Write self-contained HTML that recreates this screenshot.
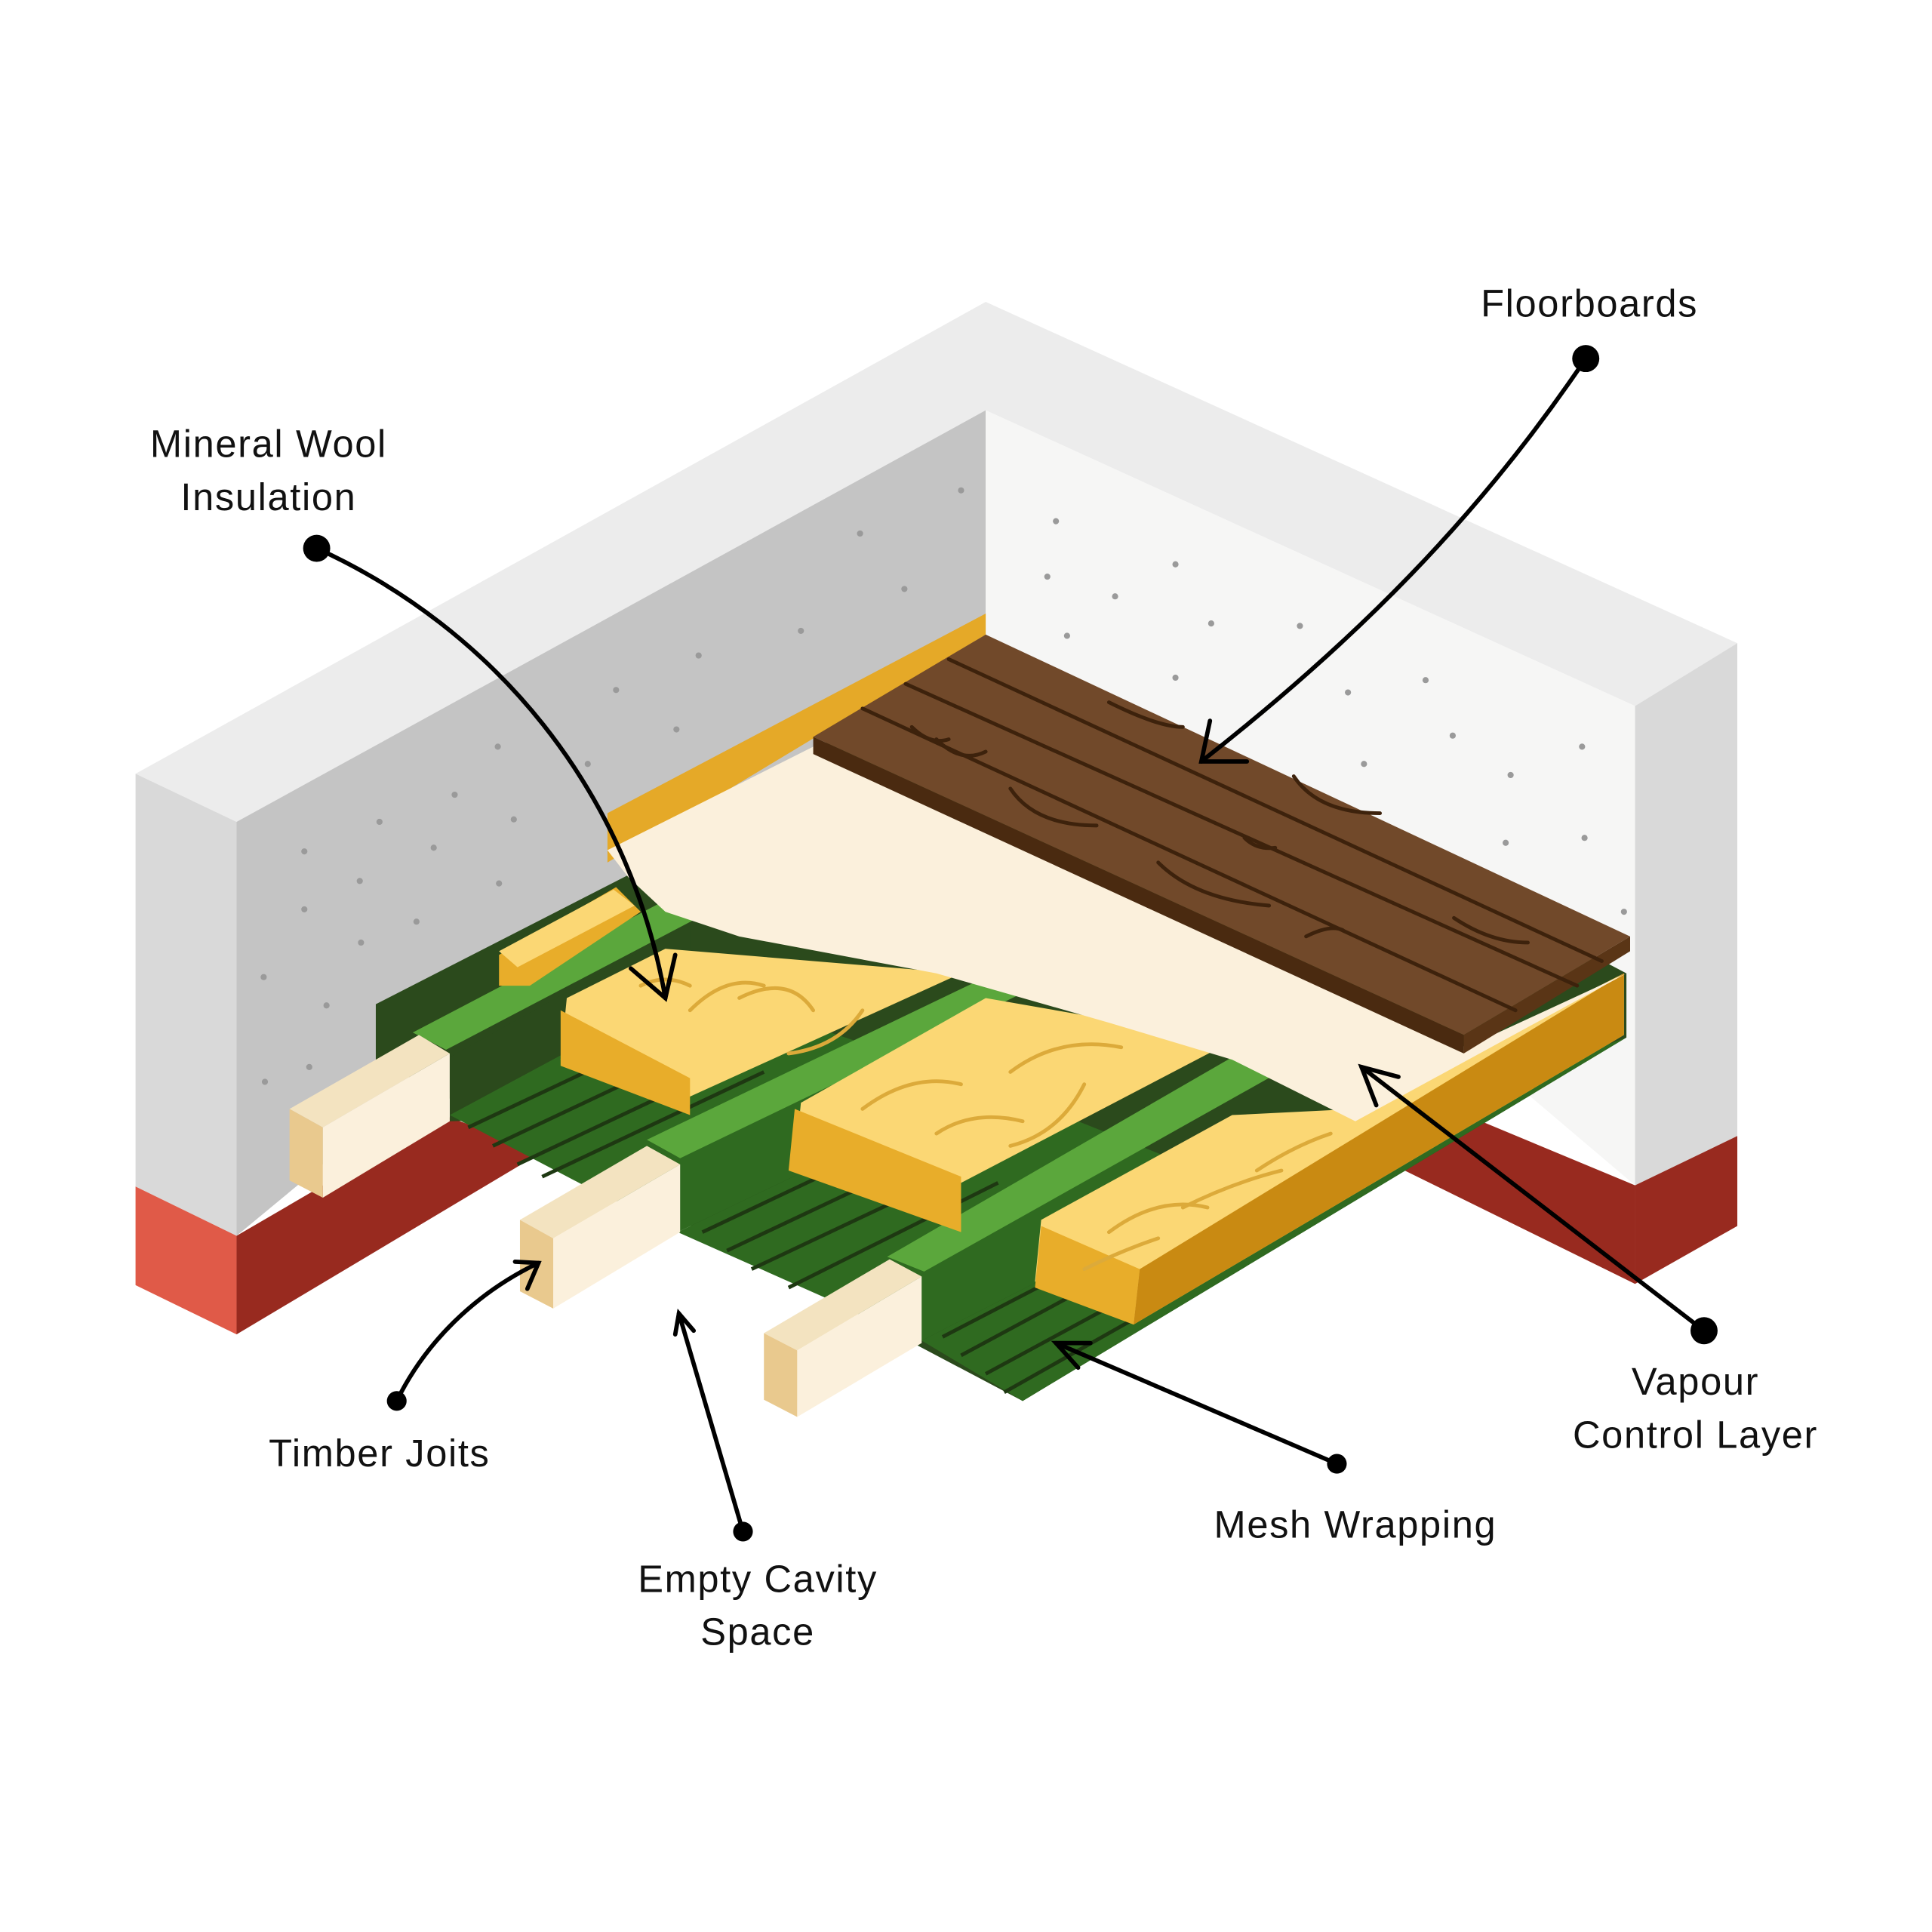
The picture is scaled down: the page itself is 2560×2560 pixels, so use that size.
<!DOCTYPE html>
<html><head><meta charset="utf-8"><style>html,body{margin:0;padding:0;background:#fff}svg{display:block}</style></head>
<body>
<svg width="2560" height="2560" viewBox="0 0 1568 1568" xmlns="http://www.w3.org/2000/svg">
<rect width="1568" height="1568" fill="#fff"/>
<polygon points="110,628 800,245 1410,522 1327,573 800,333 192,667" fill="#ececec"/>
<polygon points="110,628 192,667 192,1003 110,963" fill="#d9d9d9"/>
<polygon points="110,963 192,1003 192,1083 110,1043" fill="#e05a48"/>
<polygon points="192,667 800,333 800,500 192,1003" fill="#c4c4c4"/>
<polygon points="192,1003 192,1083 440,935 360,905" fill="#982a1f"/>
<polygon points="800,333 1327,573 1327,962 800,515" fill="#f6f6f5"/>
<polygon points="1327,573 1410,522 1410,922 1327,962" fill="#d9d9d9"/>
<polygon points="1327,962 1410,922 1410,995 1327,1042" fill="#982a1f"/>
<polygon points="1140,950 1327,1042 1327,962 1190,905" fill="#982a1f"/>
<g fill="#9a9a9a">
<circle cx="780" cy="398" r="2.5"/><circle cx="698" cy="433" r="2.5"/><circle cx="734" cy="478" r="2.5"/><circle cx="650" cy="512" r="2.5"/><circle cx="567" cy="532" r="2.5"/><circle cx="500" cy="560" r="2.5"/><circle cx="549" cy="592" r="2.5"/><circle cx="404" cy="606" r="2.5"/><circle cx="477" cy="620" r="2.5"/><circle cx="369" cy="645" r="2.5"/><circle cx="308" cy="667" r="2.5"/><circle cx="417" cy="665" r="2.5"/><circle cx="352" cy="688" r="2.5"/><circle cx="247" cy="691" r="2.5"/><circle cx="292" cy="715" r="2.5"/><circle cx="405" cy="717" r="2.5"/><circle cx="247" cy="738" r="2.5"/><circle cx="338" cy="748" r="2.5"/><circle cx="293" cy="765" r="2.5"/><circle cx="214" cy="793" r="2.5"/><circle cx="265" cy="816" r="2.5"/><circle cx="251" cy="866" r="2.5"/><circle cx="215" cy="878" r="2.5"/>
<circle cx="857" cy="423" r="2.5"/><circle cx="954" cy="458" r="2.5"/><circle cx="850" cy="468" r="2.5"/><circle cx="905" cy="484" r="2.5"/><circle cx="983" cy="506" r="2.5"/><circle cx="1055" cy="508" r="2.5"/><circle cx="866" cy="516" r="2.5"/><circle cx="954" cy="550" r="2.5"/><circle cx="1157" cy="552" r="2.5"/><circle cx="1094" cy="562" r="2.5"/><circle cx="1179" cy="597" r="2.5"/><circle cx="1284" cy="606" r="2.5"/><circle cx="1107" cy="620" r="2.5"/><circle cx="1226" cy="629" r="2.5"/><circle cx="1222" cy="684" r="2.5"/><circle cx="1286" cy="680" r="2.5"/><circle cx="1318" cy="740" r="2.5"/>
</g>
<polygon points="305,815 520,705 800,515 1320,790 1320,842 830,1137 305,860" fill="#2b4a1c"/>
<polygon points="365,858 560,750 560,905 365,910" fill="#2b4a1c"/>
<polygon points="365,905 560,800 800,880 550,1000 470,960" fill="#2f6a20"/>
<polygon points="550,1000 800,880 1000,960 748,1088" fill="#2f6a20"/>
<polygon points="748,1088 1000,960 1320,842 830,1137" fill="#2f6a20"/>
<g stroke="#1e3812" stroke-width="3">
<line x1="380" y1="915" x2="560" y2="830"/><line x1="400" y1="930" x2="580" y2="845"/><line x1="420" y1="945" x2="600" y2="860"/><line x1="440" y1="955" x2="620" y2="870"/>
<line x1="570" y1="1000" x2="750" y2="915"/><line x1="590" y1="1015" x2="770" y2="930"/><line x1="610" y1="1030" x2="790" y2="945"/><line x1="640" y1="1045" x2="810" y2="960"/>
<line x1="765" y1="1085" x2="900" y2="1015"/><line x1="780" y1="1100" x2="910" y2="1030"/><line x1="800" y1="1115" x2="920" y2="1050"/><line x1="815" y1="1130" x2="930" y2="1065"/>
</g>
<polygon points="493,660 800,498 800,515 493,700" fill="#e5a928"/>
<polygon points="335,838 545,728 572,742 362,852" fill="#5ba73c"/>
<polygon points="525,925 800,793 832,805 552,940" fill="#5ba73c"/>
<polygon points="720,1020 1000,858 1035,872 750,1032" fill="#5ba73c"/>
<polygon points="405,775 500,720 520,740 430,800 405,800" fill="#e8ad2a"/>
<polygon points="405,772 498,722 515,735 420,785" fill="#fbd774"/>
<polygon points="460,810 540,770 780,790 560,890 455,860" fill="#fbd774"/>
<polygon points="455,820 560,875 560,905 455,865" fill="#e8ad2a"/>
<polygon points="650,895 800,810 1000,845 780,960 645,945" fill="#fbd774"/>
<polygon points="645,900 780,955 780,1000 640,950" fill="#e8ad2a"/>
<polygon points="845,990 1000,905 1100,900 1318,790 1318,840 920,1075 840,1040" fill="#fbd774"/>
<polygon points="845,995 925,1030 920,1075 840,1045" fill="#e8ad2a"/>
<polygon points="925,1030 1318,790 1318,840 920,1075" fill="#c98a12"/>
<g fill="none" stroke="#dcaa3a" stroke-width="3" stroke-linecap="round">
<path d="M560,820 q30,-30 60,-20 M600,810 q40,-20 60,10 M700,820 q-20,30 -60,35 M520,800 q20,-10 40,0"/>
<path d="M700,900 q40,-30 80,-20 M760,920 q30,-20 70,-10 M820,870 q40,-30 90,-20 M880,880 q-20,40 -60,50"/>
<path d="M900,1000 q40,-30 80,-20 M960,980 q40,-20 80,-30 M1020,950 q30,-20 60,-30 M880,1030 q30,-15 60,-25"/>
</g>
<polygon points="493,690 662,605 1190,850 1320,790 1100,910 1000,860 900,830 760,790 600,760 540,740 510,712" fill="#fbf0dc"/>
<polygon points="235,900 340,840 365,855 262,915" fill="#f3e3c0"/>
<polygon points="262,915 365,855 365,910 262,972" fill="#fbf0dc"/>
<polygon points="235,900 262,915 262,972 235,958" fill="#e9c98e"/>
<polygon points="422,990 525,930 552,945 449,1005" fill="#f3e3c0"/>
<polygon points="449,1005 552,945 552,1000 449,1062" fill="#fbf0dc"/>
<polygon points="422,990 449,1005 449,1062 422,1048" fill="#e9c98e"/>
<polygon points="620,1082 722,1022 748,1036 647,1096" fill="#f3e3c0"/>
<polygon points="647,1096 748,1036 748,1090 647,1150" fill="#fbf0dc"/>
<polygon points="620,1082 647,1096 647,1150 620,1136" fill="#e9c98e"/>
<polygon points="660,598 800,515 1323,760 1188,840" fill="#71492a"/>
<polygon points="660,598 1188,840 1188,855 660,612" fill="#4a2a10"/>
<polygon points="1188,840 1323,760 1323,772 1188,855" fill="#5a3516"/>
<g fill="none" stroke="#3d220c" stroke-width="3" stroke-linecap="round">
<line x1="700" y1="575" x2="1230" y2="820"/><line x1="735" y1="555" x2="1280" y2="800"/><line x1="770" y1="535" x2="1300" y2="780"/>
<path d="M760,600 q20,20 40,10 M820,640 q20,30 70,30 M940,700 q30,30 90,35 M1050,630 q20,30 70,30 M900,570 q40,20 60,20 M1180,745 q30,20 60,20 M1060,760 q20,-10 30,-5 M740,590 q15,15 30,10 M1010,680 q10,10 25,8"/>
</g>
<g fill="none" stroke="#000" stroke-width="3.5" stroke-linecap="round">
<path d="M1287,291 C1200,420 1100,520 975,618"/><path d="M982,585 L975,618 L1012,618"/>
<path d="M257,445 C400,510 510,640 540,810"/><path d="M512,786 L540,810 L548,775"/>
<path d="M1383,1080 L1105,866"/><path d="M1117,897 L1105,866 L1135,874"/>
<path d="M1085,1188 L857,1090"/><path d="M885,1090 L857,1090 L875,1110"/>
<path d="M603,1243 L551,1066"/><path d="M548,1083 L551,1066 L563,1080"/>
<path d="M322,1137 C345,1090 385,1050 437,1025"/><path d="M418,1024 L437,1025 L428,1046"/>
</g>
<g fill="#000">
<circle cx="1287" cy="291" r="11"/><circle cx="257" cy="445" r="11"/><circle cx="1383" cy="1080" r="11"/><circle cx="1085" cy="1188" r="8"/><circle cx="603" cy="1243" r="8"/><circle cx="322" cy="1137" r="8"/>
</g>
<g font-family="Liberation Sans, sans-serif" font-size="31" fill="#111" text-anchor="middle" letter-spacing="1">
<text x="1290" y="257">Floorboards</text>
<text x="218" y="371">Mineral Wool</text><text x="218" y="414">Insulation</text>
<text x="1376" y="1132">Vapour</text><text x="1376" y="1175">Control Layer</text>
<text x="1100" y="1248">Mesh Wrapping</text>
<text x="615" y="1292">Empty Cavity</text><text x="615" y="1335">Space</text>
<text x="308" y="1190">Timber Joits</text>
</g>
</svg>
</body></html>
